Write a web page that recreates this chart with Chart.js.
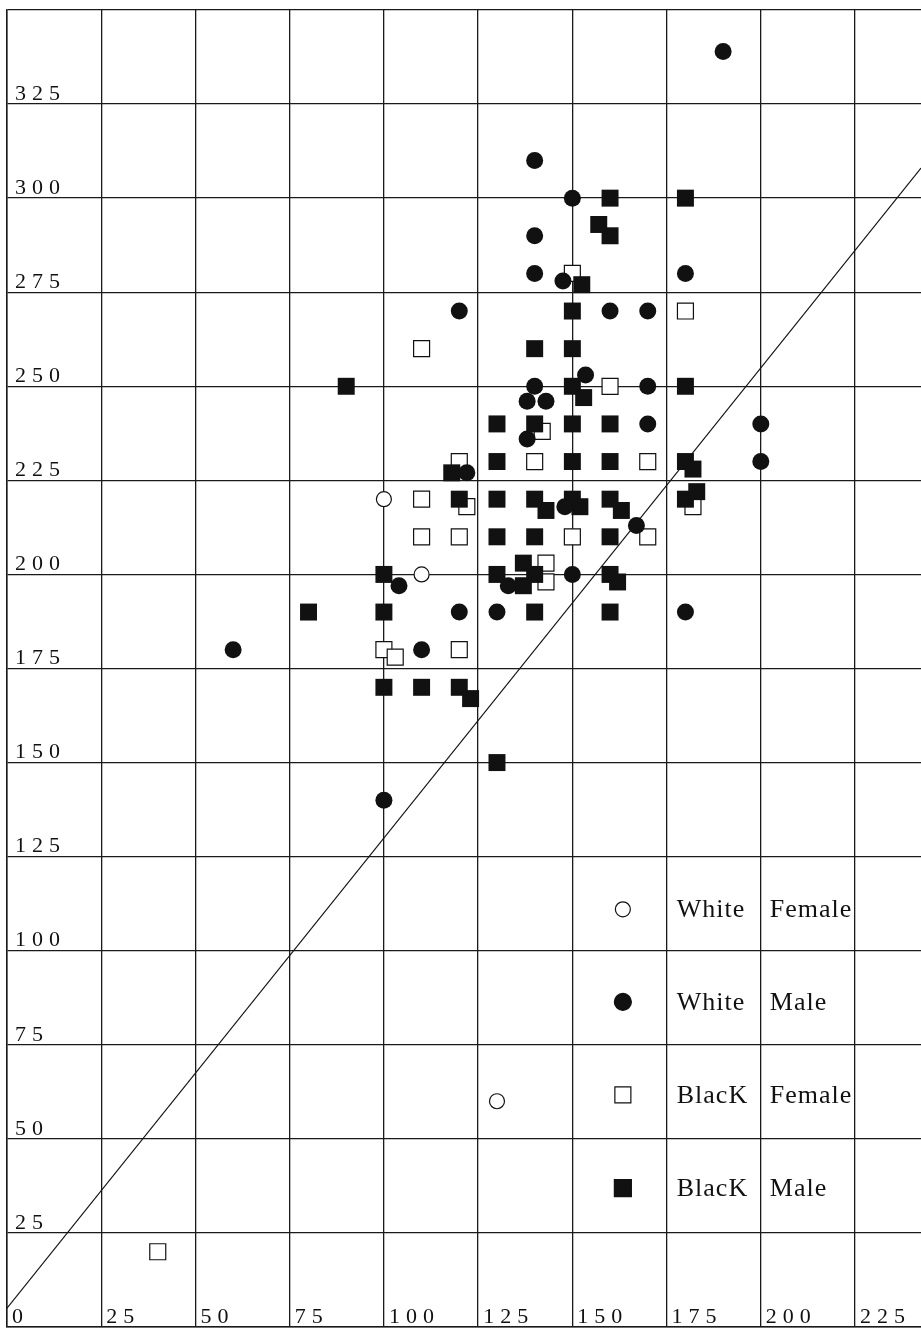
<!DOCTYPE html>
<html>
<head>
<meta charset="utf-8">
<script src="https://cdn.jsdelivr.net/npm/chart.js@4/dist/chart.umd.min.js"></script>
<style>
  html, body { margin: 0; padding: 0; background: #fff; }
  #wrap { width: 921px; height: 1328px; }
</style>
</head>
<body>
<div id="wrap"><canvas id="c" width="921" height="1328"></canvas></div>
<script>
// ---- data ----
const wfX = [100, 110, 130];
const wfY = [220, 200, 60];

const wmX = [190, 140, 150, 140, 140, 147.5, 180, 120, 160, 170, 153.5, 140, 170, 138, 143, 138, 170, 200, 200, 122, 148, 167, 104, 133, 150, 120, 130, 180, 110, 60, 100];
const wmY = [339, 310, 300, 290, 280, 278, 280, 270, 270, 270, 253, 250, 250, 246, 246, 236, 240, 240, 230, 227, 218, 213, 197, 197, 200, 190, 190, 190, 180, 180, 140];

const bfX = [150, 180, 110, 160, 142, 120, 140, 170, 110, 122, 182, 110, 120, 150, 170, 143, 143, 100, 103, 120, 40];
const bfY = [280, 270, 260, 250, 238, 230, 230, 230, 220, 218, 218, 210, 210, 210, 210, 203, 198, 180, 178, 180, 20];

const bmX = [160, 180, 157, 160, 152.5, 150, 140, 150, 90, 150, 180, 153, 130, 140, 150, 160, 118, 130, 150, 160, 180, 182, 120, 130, 140, 143, 150, 152, 160, 163, 180, 183, 130, 140, 160, 100, 130, 137, 140, 137, 160, 162, 80, 100, 140, 160, 100, 110, 120, 123, 130];
const bmY = [300, 300, 293, 290, 277, 270, 260, 260, 250, 250, 250, 247, 240, 240, 240, 240, 227, 230, 230, 230, 230, 228, 220, 220, 220, 217, 220, 218, 220, 217, 220, 222, 210, 210, 210, 200, 200, 203, 200, 197, 200, 198, 190, 190, 190, 190, 170, 170, 170, 167, 150];

const trendX = [0, 242.5];
const trendY = [5, 308];

const xTickValues = [0, 25, 50, 75, 100, 125, 150, 175, 200, 225];
const xTickLabels = ['0', '25', '50', '75', '100', '125', '150', '175', '200', '225'];
const yTickValues = [0, 25, 50, 75, 100, 125, 150, 175, 200, 225, 250, 275, 300, 325, 350];
const yTickLabels = ['', '25', '50', '75', '100', '125', '150', '175', '200', '225', '250', '275', '300', '325', ''];

const legendRace = ['White', 'White', 'BlacK', 'BlacK'];
const legendSex = ['Female', 'Male', 'Female', 'Male'];
const legendY = [111, 86.4, 61.7, 36.9];
const legendSymbolX = 163.4;
const legendRaceX = 177.7;
const legendSexX = 202.4;

// ---- helpers ----
const pts = (xs, ys) => xs.map((x, i) => ({ x, y: ys[i] }));
const FONT = "'Liberation Serif', 'DejaVu Serif', serif";
const INK = '#111';

const symbols = [
  { style: 'circle', fill: '#fff', r: 7.5 },   // White Female
  { style: 'circle', fill: INK, r: 8.5 },      // White Male
  { style: 'rect', fill: '#fff', r: 8 },       // Black Female (half side)
  { style: 'rect', fill: INK, r: 8.5 }         // Black Male (half side)
];

const spacingPlugin = {
  id: 'spacing',
  beforeDraw(chart) {
    const ctx = chart.ctx;
    ctx.save();
    ctx.fillStyle = '#fff';
    ctx.fillRect(0, 0, chart.width, chart.height);
    ctx.restore();
    ctx.letterSpacing = '6px';
  },
  afterDraw(chart) {
    chart.ctx.letterSpacing = '0px';
  }
};

const legendPlugin = {
  id: 'innerLegend',
  afterDatasetsDraw(chart) {
    const ctx = chart.ctx;
    const xs = chart.scales.x, ys = chart.scales.y;
    ctx.save();
    ctx.letterSpacing = '1px';
    ctx.font = '26px ' + FONT;
    ctx.fillStyle = INK;
    ctx.textBaseline = 'alphabetic';
    ctx.textAlign = 'left';
    legendRace.forEach((race, i) => {
      const cy = ys.getPixelForValue(legendY[i]);
      const cx = xs.getPixelForValue(legendSymbolX);
      const s = symbols[i];
      ctx.beginPath();
      if (s.style === 'circle') ctx.arc(cx, cy, s.r, 0, Math.PI * 2);
      else ctx.rect(cx - s.r, cy - s.r, 2 * s.r, 2 * s.r);
      ctx.fillStyle = s.fill;
      ctx.fill();
      ctx.lineWidth = 1.2;
      ctx.strokeStyle = INK;
      ctx.stroke();
      ctx.fillStyle = INK;
      ctx.fillText(race, xs.getPixelForValue(legendRaceX), cy + 8);
      ctx.fillText(legendSex[i], xs.getPixelForValue(legendSexX), cy + 8);
    });
    ctx.restore();
  }
};

const zeroPad = s => { s.paddingTop = 0; s.paddingBottom = 0; s.paddingLeft = 0; s.paddingRight = 0; };
const gridCommon = { color: '#1a1a1a', lineWidth: 1.3, drawTicks: false, tickLength: 0 };

new Chart(document.getElementById('c'), {
  type: 'scatter',
  data: {
    datasets: [
      { label: 'White Male', data: pts(wmX, wmY), order: 1, pointStyle: 'circle', pointRadius: 8.5, backgroundColor: INK, borderColor: INK, borderWidth: 0 },
      { label: 'Black Male', data: pts(bmX, bmY), order: 2, pointStyle: 'rect', pointRadius: 12, backgroundColor: INK, borderColor: INK, borderWidth: 0 },
      { label: 'White Female', data: pts(wfX, wfY), order: 3, pointStyle: 'circle', pointRadius: 7.5, backgroundColor: '#fff', borderColor: INK, borderWidth: 1.2 },
      { label: 'Black Female', data: pts(bfX, bfY), order: 4, pointStyle: 'rect', pointRadius: 11.3, backgroundColor: '#fff', borderColor: INK, borderWidth: 1.2 },
      { type: 'line', label: 'trend', data: pts(trendX, trendY), order: 0, showLine: true, borderColor: INK, borderWidth: 1.2, pointRadius: 0, fill: false, tension: 0 }
    ]
  },
  options: {
    responsive: false,
    devicePixelRatio: 1,
    animation: false,
    events: [],
    layout: { autoPadding: false, padding: { left: 7, top: 10, right: 0, bottom: 1 } },
    plugins: { legend: { display: false }, tooltip: { enabled: false }, title: { display: false } },
    scales: {
      x: {
        type: 'linear', position: 'bottom', min: 0, max: 242.5,
        afterFit: s => { s.height = 0; zeroPad(s); },
        afterBuildTicks: s => { s.ticks = xTickValues.map(v => ({ value: v })); },
        grid: gridCommon,
        border: { display: true, color: '#1a1a1a', width: 1.5 },
        ticks: {
          mirror: true, align: 'start', labelOffset: 5, padding: -3,
          maxRotation: 0, minRotation: 0, autoSkip: false, color: INK,
          font: { family: FONT, size: 22 },
          callback: (v, i) => xTickLabels[i]
        }
      },
      y: {
        type: 'linear', position: 'left', min: 0, max: 350,
        afterFit: s => { s.width = 0; zeroPad(s); },
        afterBuildTicks: s => { s.ticks = yTickValues.map(v => ({ value: v })); },
        grid: gridCommon,
        border: { display: true, color: '#1a1a1a', width: 1.5 },
        ticks: {
          mirror: true, padding: 8, labelOffset: -10, autoSkip: false, color: INK,
          font: { family: FONT, size: 22 },
          callback: (v, i) => yTickLabels[i]
        }
      }
    }
  },
  plugins: [spacingPlugin, legendPlugin]
});
</script>
</body>
</html>
